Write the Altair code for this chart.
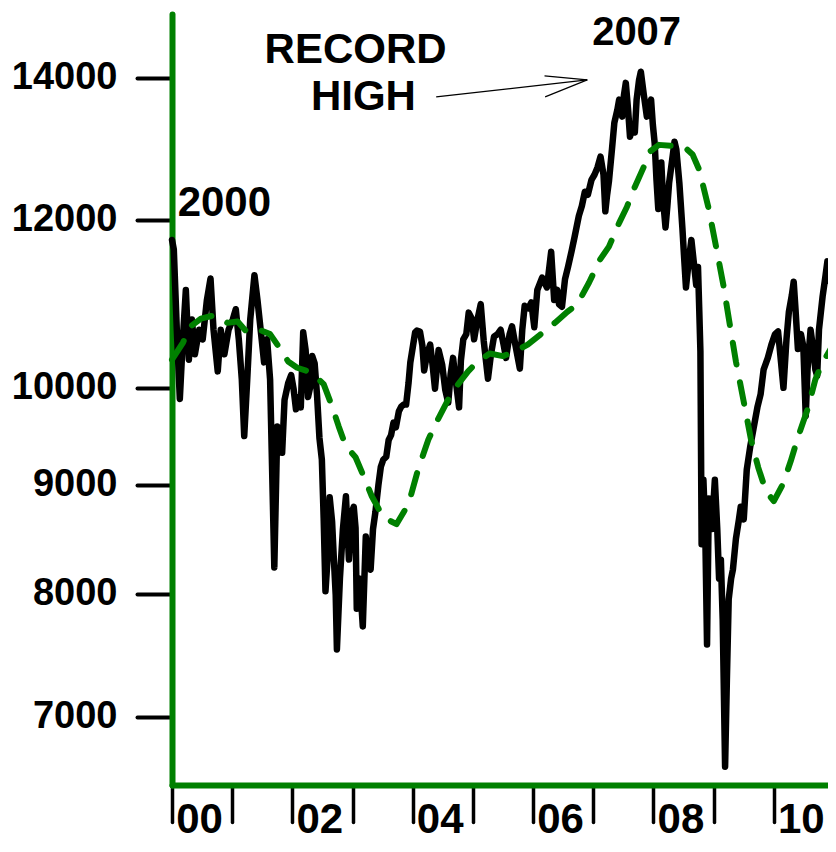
import altair as alt
import pandas as pd

# ---------------- data ----------------
black_years = [
    2000.00, 2000.03, 2000.08, 2000.13, 2000.18, 2000.23, 2000.28, 2000.33, 2000.38, 2000.45,
    2000.51, 2000.58, 2000.64, 2000.69, 2000.76, 2000.81, 2000.87, 2000.94,
    2001.01, 2001.06, 2001.11, 2001.16, 2001.20, 2001.25, 2001.30, 2001.37, 2001.42, 2001.49,
    2001.53, 2001.58, 2001.63, 2001.70, 2001.75, 2001.80, 2001.83, 2001.87, 2001.93, 2001.98,
    2002.02, 2002.06, 2002.10, 2002.14, 2002.18, 2002.22, 2002.26, 2002.30, 2002.33, 2002.37,
    2002.41, 2002.45, 2002.49, 2002.52, 2002.55, 2002.59, 2002.62, 2002.66, 2002.69, 2002.72,
    2002.74, 2002.79, 2002.84, 2002.89, 2002.94, 2002.99,
    2003.02, 2003.05, 2003.07, 2003.12, 2003.17, 2003.22, 2003.26, 2003.30, 2003.34, 2003.38,
    2003.43, 2003.47, 2003.51, 2003.56, 2003.60, 2003.64, 2003.68, 2003.72, 2003.77, 2003.81,
    2003.85, 2003.89, 2003.93, 2003.96,
    2004.04, 2004.07, 2004.12, 2004.16, 2004.19, 2004.24, 2004.29, 2004.33, 2004.37, 2004.43,
    2004.49, 2004.54, 2004.59, 2004.63, 2004.67, 2004.72, 2004.77, 2004.80, 2004.84, 2004.89,
    2004.93, 2004.98,
    2005.02, 2005.07, 2005.13, 2005.18, 2005.25, 2005.30, 2005.35, 2005.41, 2005.46, 2005.51,
    2005.55, 2005.61, 2005.65, 2005.71, 2005.78, 2005.82, 2005.86, 2005.92, 2005.97,
    2006.02, 2006.07, 2006.15, 2006.23, 2006.30, 2006.35, 2006.40, 2006.43, 2006.48, 2006.53,
    2006.58, 2006.64, 2006.69, 2006.76, 2006.81, 2006.86, 2006.91, 2006.97,
    2007.02, 2007.07, 2007.12, 2007.17, 2007.20, 2007.23, 2007.26, 2007.31, 2007.35, 2007.40,
    2007.43, 2007.48, 2007.51, 2007.54, 2007.58, 2007.61, 2007.66, 2007.69, 2007.72, 2007.76,
    2007.79, 2007.84, 2007.89, 2007.92, 2007.96, 2007.99,
    2008.02, 2008.05, 2008.08, 2008.13, 2008.16, 2008.20, 2008.23, 2008.26, 2008.31, 2008.35,
    2008.38, 2008.43, 2008.48, 2008.51, 2008.54, 2008.59, 2008.63, 2008.68, 2008.71, 2008.74,
    2008.76, 2008.78, 2008.80, 2008.83, 2008.86, 2008.89, 2008.92, 2008.97,
    2009.02, 2009.06, 2009.09, 2009.12, 2009.15, 2009.19, 2009.22, 2009.25, 2009.29, 2009.32,
    2009.37, 2009.42, 2009.45, 2009.50, 2009.55, 2009.61, 2009.66, 2009.73, 2009.78, 2009.83,
    2009.90, 2009.96,
    2010.02, 2010.07, 2010.12, 2010.16, 2010.21, 2010.25, 2010.30, 2010.33, 2010.36, 2010.40,
    2010.45, 2010.49, 2010.53, 2010.56, 2010.61, 2010.66, 2010.69, 2010.72, 2010.75, 2010.81,
    2010.86, 2010.89, 2010.94,
]
black_values = [
    11740, 11620, 10650, 9880, 10540, 11120, 10310, 10770, 10370, 10650,
    10540, 11000, 11260, 10650, 10180, 10650, 10370, 10650,
    10770, 10890, 10540, 10090, 9490, 10090, 10770, 11300, 11000, 10540,
    10280, 10540, 10090, 8230, 9590, 9500, 9320, 9870, 10050, 10140,
    9990, 9770, 9900, 9790, 10620, 10420, 9900, 10020, 10350, 10270,
    9920, 9470, 9250, 8680, 8020, 8350, 8880, 8650, 8300, 7990,
    7530, 8130, 8580, 8890, 8300, 8740,
    8790, 8590, 7870, 8130, 7720, 8510, 8280, 8210, 8580, 8740,
    9000, 9180, 9250, 9280, 9450, 9500, 9630, 9580, 9750, 9800,
    9820, 9820, 10050, 10280,
    10620, 10640, 10630, 10470, 10190, 10380, 10480, 10250, 9990, 10420,
    10250, 9980, 9840, 10150, 10330, 10050, 9790, 10300, 10540, 10600,
    10850, 10780,
    10540, 10750, 10950, 10520, 10100, 10370, 10570, 10600, 10650, 10480,
    10330, 10600, 10690, 10460, 10210, 10650, 10930, 10900, 10970,
    10680, 11120, 11270, 11150, 11590, 11000, 11120, 10950, 10920, 11250,
    11400, 11600, 11780, 12050, 12180, 12370, 12330, 12530,
    12600, 12700, 12850, 12600, 12110, 12330, 12510, 12950, 13330, 13520,
    13670, 13420, 13740, 13920, 13500, 13130, 13300, 13190, 13670, 13960,
    14090, 13740, 13420, 13550, 13670, 13300,
    13040, 12530, 12140, 12770, 12260, 11900, 12170, 12490, 12800, 13060,
    12950, 12490, 11900, 11510, 11150, 11500, 11740, 11390, 11180, 11400,
    10900, 10400, 8440, 9050, 8580, 7570, 8870, 8580,
    9050, 8580, 8130, 8300, 7780, 6630, 7290, 7950, 8130, 8210,
    8490, 8670, 8790, 8670, 9150, 9390, 9560, 9800, 9930, 10200,
    10330, 10480,
    10600, 10630, 10280, 10000, 10540, 10860, 11060, 11220, 10890, 10430,
    10600, 10460, 9700, 10200, 10650, 10400, 10200, 10130, 10650, 11040,
    11300, 11470, 11220,
]

green_years = [
    2000.00, 2000.18, 2000.31, 2000.48, 2000.71, 2000.92, 2001.09, 2001.25, 2001.45, 2001.63,
    2001.77, 2001.93, 2002.08, 2002.31, 2002.52, 2002.66, 2002.77, 2002.89, 2003.05, 2003.22,
    2003.32, 2003.51, 2003.73, 2003.93, 2004.09, 2004.26, 2004.42, 2004.59, 2004.75, 2004.92,
    2005.08, 2005.28, 2005.50, 2005.69, 2005.91, 2006.12, 2006.37, 2006.57, 2006.73, 2006.93,
    2007.11, 2007.26, 2007.43, 2007.56, 2007.69, 2007.84, 2007.94, 2008.09, 2008.30, 2008.51,
    2008.65, 2008.76, 2008.91, 2009.04, 2009.16, 2009.26, 2009.37, 2009.50, 2009.62, 2009.74,
    2009.87, 2010.00, 2010.15, 2010.28, 2010.40, 2010.56, 2010.69, 2010.81, 2010.96,
]
green_values = [
    10310, 10500, 10690, 10780, 10820, 10730, 10745, 10620, 10650, 10600,
    10460, 10290, 10220, 10170, 10040, 9800, 9590, 9385, 9275, 9035,
    8890, 8690, 8625, 8815, 9155, 9455, 9665, 9875, 10035, 10180,
    10290, 10380, 10350, 10400, 10480, 10595, 10735, 10860, 10945, 11210,
    11490, 11655, 11960, 12170, 12435, 12710, 12920, 13015, 13000, 12988,
    12880, 12668, 12171, 11655, 11185, 10745, 10290, 9850, 9456, 9174,
    8939, 8843, 9007, 9234, 9477, 9769, 10091, 10279, 10448,
]

y_ticks = [7000, 8000, 9000, 10000, 12000, 14000]
x_ticks = [2000, 2001, 2002, 2003, 2004, 2005, 2006, 2007, 2008, 2009, 2010]

note_texts = ["2000", "2007", "RECORD", "HIGH"]
note_years = [2000.87, 2007.72, 2003.05, 2003.18]
note_values = [12050, 14500, 14225, 13520]
note_sizes = [42, 40, 42, 42]

arrow_from_years = [2004.39, 2006.19, 2006.20]
arrow_from_values = [13710, 14025, 13710]
arrow_to_years = [2006.90, 2006.90, 2006.90]
arrow_to_values = [13965, 13965, 13965]

# ---------------- chart ----------------
FONT = "Liberation Sans"
GREEN = "#008000"

black_df = pd.DataFrame({"year": black_years, "value": black_values})
green_df = pd.DataFrame({"year": green_years, "value": green_values})
notes_df = pd.DataFrame({"text": note_texts, "year": note_years,
                         "value": note_values, "size": note_sizes})
arrow_df = pd.DataFrame({
    "year": arrow_from_years, "value": arrow_from_values,
    "year2": arrow_to_years, "value2": arrow_to_values,
})

x_scale = alt.Scale(domain=[2000, 2010.90], nice=False, zero=False)
y_scale = alt.Scale(type="log", domain=[6500, 15000], nice=False)

x_axis = alt.Axis(
    values=x_ticks,
    labelExpr="datum.value % 2 == 0 ? format(datum.value % 100, '02d') : ''",
    title=None, grid=False,
    domainColor=GREEN, domainWidth=6, domainCap="round",
    tickColor="black", tickWidth=3.5, tickSize=37, tickCap="round",
    labelFont=FONT, labelFontSize=42, labelFontWeight="bold", labelColor="black",
    labelAlign="center", labelOffset=27, labelBaseline="alphabetic", labelPadding=10,
    labelFlush=False, labelOverlap=False, labelBound=False,
)
y_axis = alt.Axis(
    values=y_ticks, format="d", title=None, grid=False,
    domainColor=GREEN, domainWidth=6, domainCap="round",
    tickColor="black", tickWidth=4, tickSize=35, tickCap="round",
    labelFont=FONT, labelFontSize=38, labelFontWeight="bold", labelColor="black",
    labelPadding=20, labelFlush=False, labelOverlap=False,
)

black_line = alt.Chart(black_df).mark_line(
    color="black", strokeWidth=6.5, strokeJoin="round", strokeCap="round"
).encode(
    x=alt.X("year:Q", scale=x_scale, axis=x_axis),
    y=alt.Y("value:Q", scale=y_scale, axis=y_axis),
)

green_line = alt.Chart(green_df).mark_line(
    color=GREEN, strokeWidth=6, strokeDash=[22, 18], strokeCap="round", strokeJoin="round"
).encode(
    x=alt.X("year:Q", scale=x_scale),
    y=alt.Y("value:Q", scale=y_scale),
)

notes = alt.Chart(notes_df).mark_text(
    font=FONT, fontWeight="bold", color="black",
    align="center", baseline="alphabetic"
).encode(
    x=alt.X("year:Q", scale=x_scale),
    y=alt.Y("value:Q", scale=y_scale),
    text="text:N",
    size=alt.Size("size:Q", scale=None, legend=None),
)

arrow = alt.Chart(arrow_df).mark_rule(color="black", strokeWidth=1.2).encode(
    x=alt.X("year:Q", scale=x_scale),
    y=alt.Y("value:Q", scale=y_scale),
    x2="year2:Q",
    y2="value2:Q",
)

chart = alt.layer(black_line, green_line, arrow, notes).properties(
    width=656,
    height=771,
    padding={"left": 164, "top": 6, "right": 0, "bottom": 55},
    autosize=alt.AutoSizeParams(type="none"),
    background="white",
).configure_view(stroke=None)

chart.save("out.html", embed_options={"renderer": "svg", "actions": False})
